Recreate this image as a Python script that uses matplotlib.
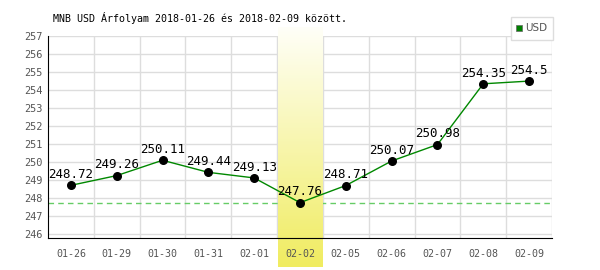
import matplotlib.pyplot as plt
import numpy as np
from matplotlib.patches import Rectangle

# Adatok
napok = ['01-26', '01-29', '01-30', '01-31', '02-01', '02-02',
         '02-05', '02-06', '02-07', '02-08', '02-09']
arfolyam = [248.72, 249.26, 250.11, 249.44, 249.13, 247.76,
            248.71, 250.07, 250.98, 254.35, 254.5]
kiemelt = 5  # 02-02

mono = 'DejaVu Sans Mono'

fig = plt.figure(figsize=(6, 2.7), dpi=100)
ax = fig.add_axes([48/600, 32/270, 504/600, 202/270])

x = np.arange(len(napok))
ax.set_xlim(-0.5, len(napok) - 0.5)
ax.set_ylim(245.8, 257)

# Rács
for yy in np.arange(246, 258):
    ax.axhline(yy, color='#dddddd', lw=1, zorder=1)
for xx in x + 0.5:
    ax.axvline(xx, color='#dddddd', lw=1, zorder=1)

# Minimum szaggatott vonal
ax.axhline(min(arfolyam), color='#66cc66', lw=1, ls=(0, (4, 3)), zorder=2)

# Kiemelt oszlop színátmenettel (fehérből sárgába)
grad = np.linspace(0, 1, 256).reshape(-1, 1)
cmap = plt.matplotlib.colors.LinearSegmentedColormap.from_list(
    'sarga', ['#fffff8', '#f0ec60'])
ymin, ymax = ax.get_ylim()
per_px = (ymax - ymin) / 202
ax.imshow(grad, aspect='auto', cmap=cmap, origin='upper',
          extent=[kiemelt - 0.5 + 0.02, kiemelt + 0.5,
                  ymin - 29 * per_px, ymax + 9 * per_px],
          clip_on=False, zorder=2.5)

# Vonal és pontok
ax.plot(x, arfolyam, color='#008800', lw=1, zorder=3)
ax.scatter(x, arfolyam, color='black', s=30, zorder=4)
for xi, v in zip(x, arfolyam):
    ax.annotate(f'{v:g}', (xi, v), xytext=(0, 3), textcoords='offset points',
                ha='center', va='bottom', fontsize=9, family=mono,
                color='black', zorder=5)

# Tengelyek
for s in ['top', 'right']:
    ax.spines[s].set_visible(False)
ax.spines['left'].set_color('black')
ax.spines['bottom'].set_color('black')
ax.spines['bottom'].set_zorder(6)
ax.xaxis.set_zorder(7)
ax.set_xticks(x)
ax.set_yticks(np.arange(246, 258))
ax.set_xticklabels(napok, family=mono, fontsize=7.2, color='#555555')
ax.set_yticklabels([str(v) for v in range(246, 258)], family=mono,
                   fontsize=7.4, color='#555555')
ax.tick_params(axis='x', length=0, pad=8)
ax.tick_params(axis='y', length=0, pad=4)

# Cím
fig.text(53/600, 1 - 18/270, 'MNB USD Árfolyam 2018-01-26 és 2018-02-09 között.',
         family=mono, fontsize=7.2, va='center', ha='left')

# Jelmagyarázat
fig.patches.append(Rectangle((511/600, 1 - 40/270), 42/600, 23/270,
                             transform=fig.transFigure, facecolor='white',
                             edgecolor='#dddddd', lw=1))
fig.patches.append(Rectangle((516/600, 1 - 31/270), 6/600, 6/270,
                             transform=fig.transFigure, facecolor='#008000',
                             edgecolor='#666666', lw=0.5))
fig.text(525/600, 1 - 28/270, 'USD', fontsize=7.5, color='#555555',
         va='center', ha='left')

fig.savefig('out.png', dpi=100)
